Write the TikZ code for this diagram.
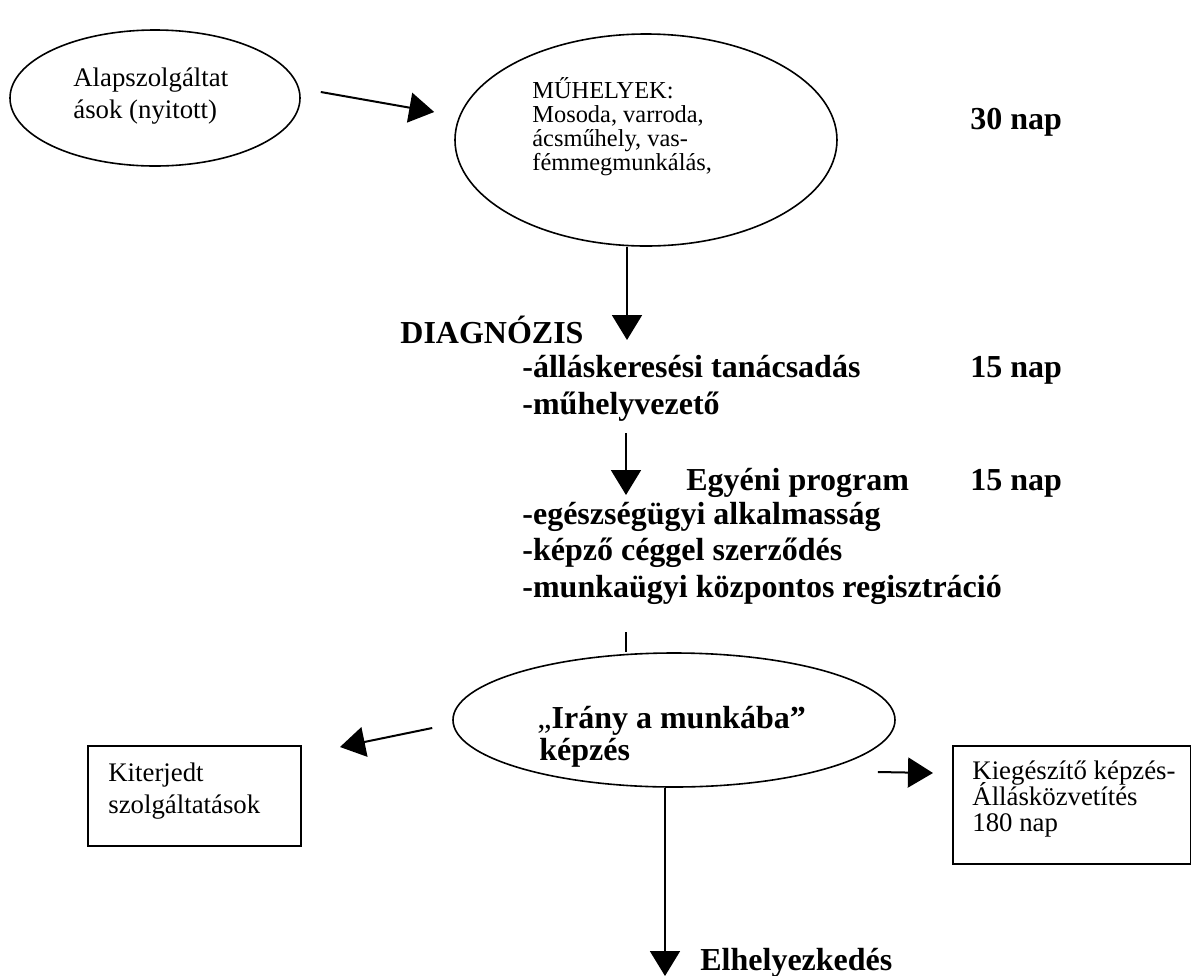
\documentclass[tikz,border=0pt]{standalone}
\usepackage{fontspec}
\setmainfont{Liberation Serif}
\usetikzlibrary{arrows.meta,positioning,calc,shapes.geometric}

\begin{document}
\begin{tikzpicture}[x=0.5pt,y=-0.5pt,>={Triangle[length=12.5pt,width=15pt]},
    oval/.style={draw,ellipse,line width=0.8pt,inner sep=0pt},
    doboz/.style={draw,line width=1pt,inner sep=0pt,anchor=north west},
    sima/.style={font=\fontsize{13.4}{16}\selectfont,inner sep=0pt,anchor=base west},
    kicsi/.style={font=\fontsize{12.2}{14}\selectfont,inner sep=0pt,anchor=base west},
    vastag/.style={font=\fontsize{16}{19}\selectfont\bfseries,inner sep=0pt,anchor=base west},
    nyil/.style={->,line width=1pt}]
            \useasboundingbox (0,0) rectangle (1191,976);
            \node [oval,minimum width=145pt,minimum height=68pt] (alap) at (155,98) {};
            \node [sima] (alap1) at (73,86) {Alapszolgáltat};
            \node [sima] (alap2) at (73,118) {ások (nyitott)};
            \node [oval,minimum width=191pt,minimum height=106pt] (muhely) at (646,140) {};
            \node [kicsi] (muhely1) at (532,98) {MŰHELYEK:};
            \node [kicsi] (muhely2) at (532,122) {Mosoda, varroda,};
            \node [kicsi] (muhely3) at (532,146) {ácsműhely, vas-};
            \node [kicsi] (muhely4) at (532,170) {fémmegmunkálás,};
            \node [vastag] (nap30) at (970,129) {30 nap};
            \node [vastag] (diag) at (400,343) {DIAGNÓZIS};
            \node [vastag] (allas) at (522,377) {-álláskeresési tanácsadás};
            \node [vastag] (nap15a) at (970,377) {15 nap};
            \node [vastag] (vezeto) at (522,414) {-műhelyvezető};
            \node [vastag] (egyeni) at (686,490) {Egyéni program};
            \node [vastag] (nap15b) at (970,490) {15 nap};
            \node [vastag] (egeszseg) at (522,524) {-egészségügyi alkalmasság};
            \node [vastag] (kepzo) at (522,560) {-képző céggel szerződés};
            \node [vastag] (munkaugy) at (522,597) {-munkaügyi központos regisztráció};
            \node [oval,minimum width=221pt,minimum height=67pt] (irany) at (674,720) {};
            \node [vastag] (irany1) at (537,728) {{\mdseries „}Irány a munkába”};
            \node [vastag] (irany2) at (539,760) {képzés};
            \node [doboz,minimum width=106.5pt,minimum height=50pt] (kiterj) at (87,745) {};
            \node [sima] (kiterj1) at (108,781) {Kiterjedt};
            \node [sima] (kiterj2) at (108,813) {szolgáltatások};
            \node [doboz,minimum width=119pt,minimum height=59pt] (kieg) at (952,745) {};
            \node [sima] (kieg1) at (972,779) {Kiegészítő képzés-};
            \node [sima] (kieg2) at (972,805) {Állásközvetítés};
            \node [sima] (kieg3) at (972,831) {180 nap};
            \node [vastag] (elhely) at (700,970) {Elhelyezkedés};
            \coordinate (a1) at ($(alap.east)+(20,-6)$);
            \coordinate (b1) at ($(muhely.west)+(-20,-28)$);
            \coordinate (a2) at (muhely.south -| 627,0);
            \coordinate (b2) at (627,340);
            \coordinate (a3) at (626,433);
            \coordinate (b3) at (626,495);
            \coordinate (a4) at (626,632);
            \coordinate (a5) at ($(irany.west)+(-20,8)$);
            \coordinate (b5) at ($(kiterj.north east)+(38,2)$);
            \coordinate (a6) at ($(irany.east)+(-18,52)$);
            \coordinate (b6) at ($(kieg.west)+(-19,-32)$);
            \coordinate (a7) at ($(irany.south)+(-9,0)$);
            \coordinate (b7) at (665,976);
            \draw [nyil] (a1) -- (b1);
            \draw [nyil] (a2) -- (b2);
            \draw [nyil] (a3) -- (b3);
            \draw [line width=1pt] (a4) -- (irany.north -| a4);
            \draw [nyil] (a5) -- (b5);
            \draw [nyil] (a6) -- (b6);
            \draw [nyil] (a7) -- (b7);
\end{tikzpicture}
\end{document}
